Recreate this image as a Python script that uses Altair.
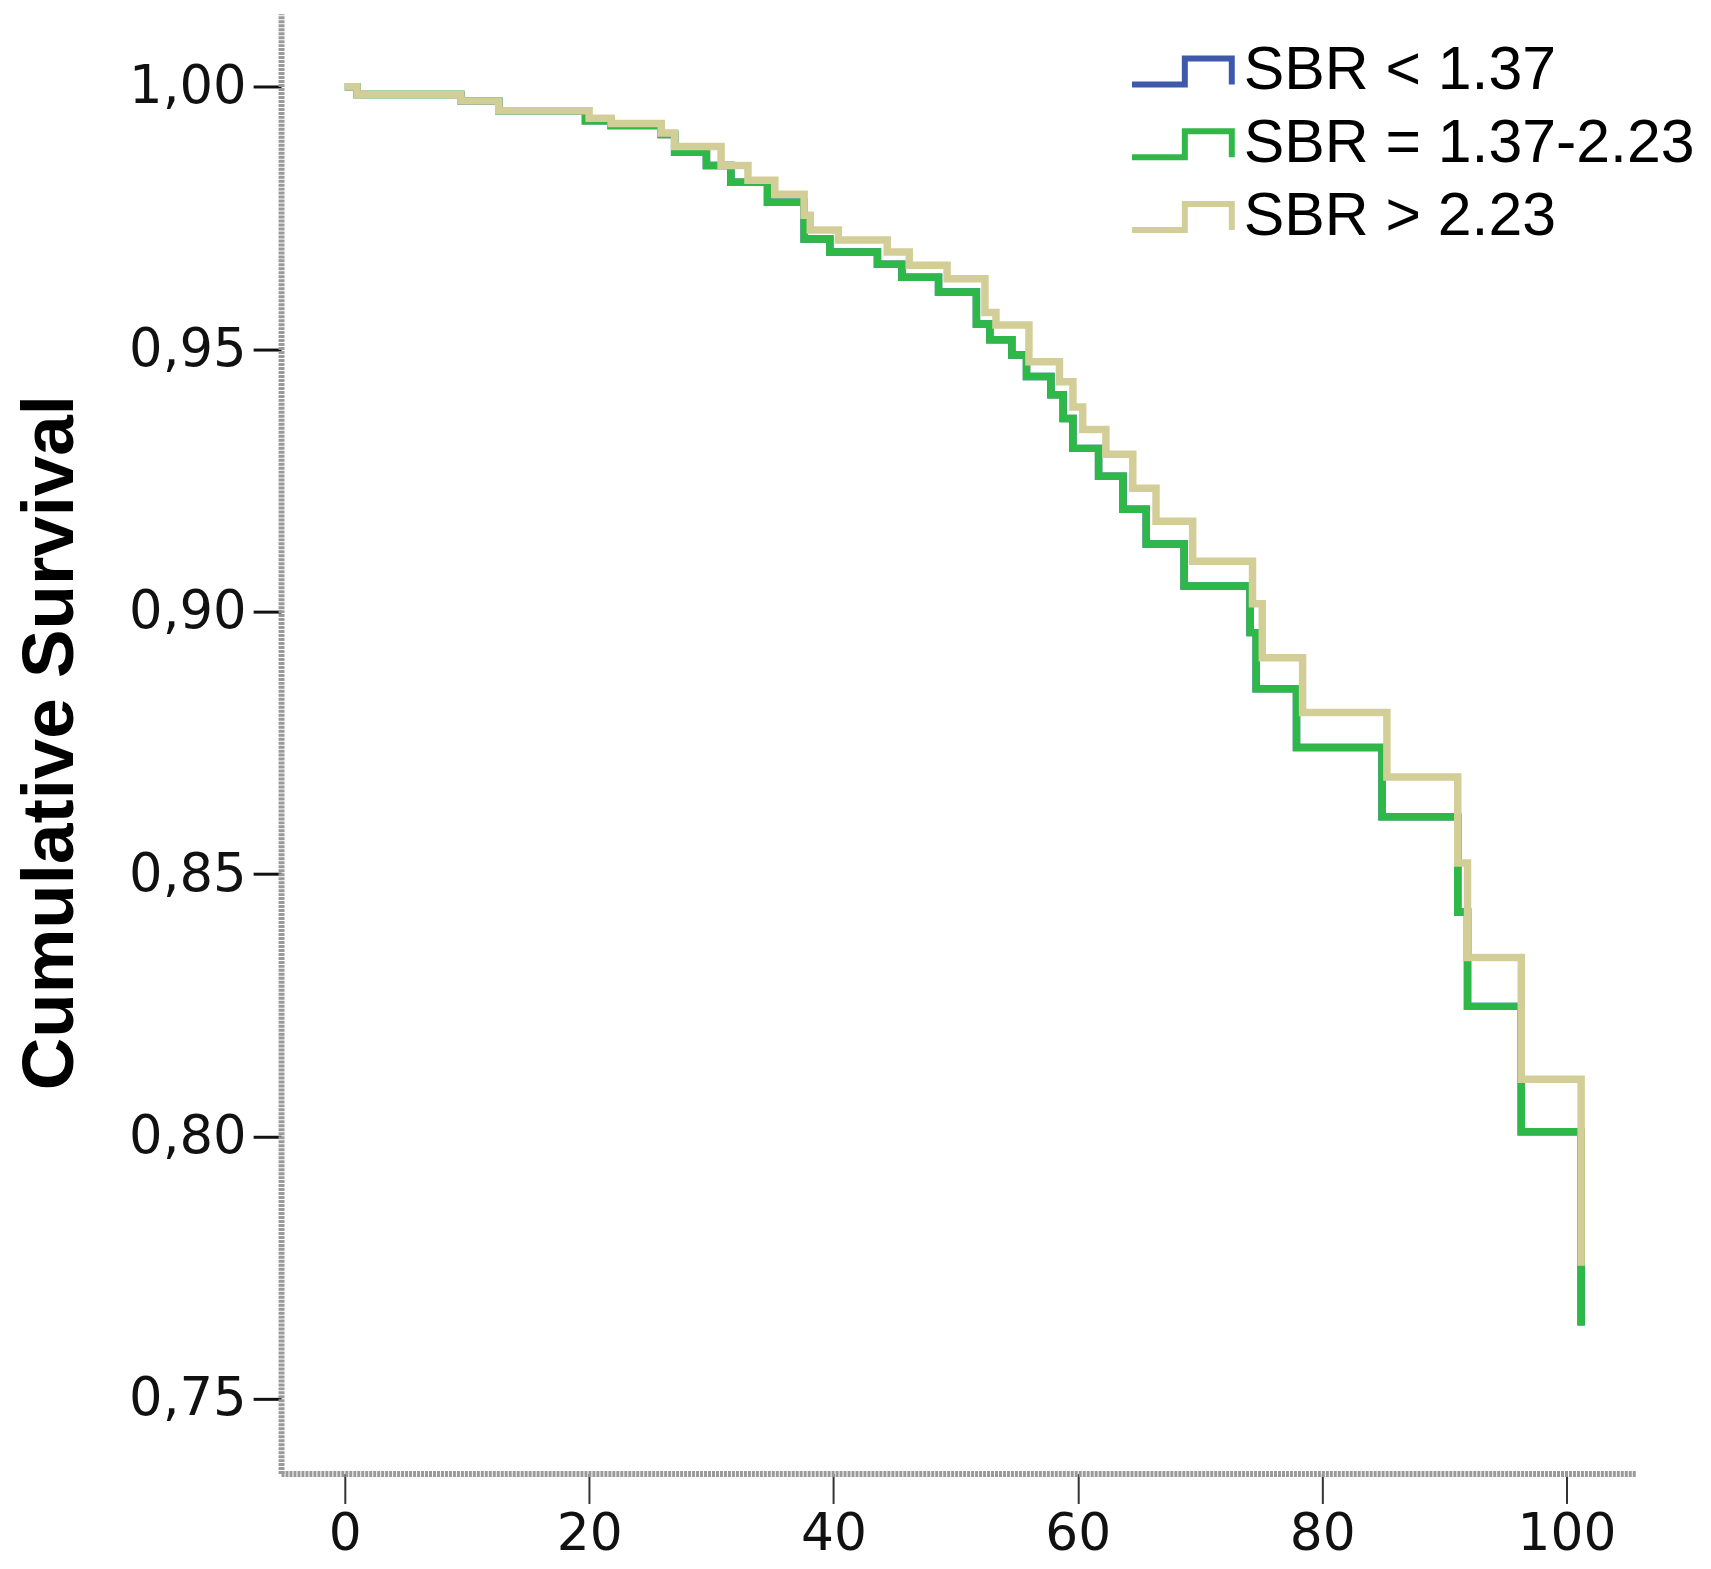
import altair as alt
import pandas as pd

groups = ["SBR < 1.37", "SBR = 1.37-2.23", "SBR > 2.23"]
colors = ["#3E58AC", "#2EB848", "#D3CE97"]

# SBR = 1.37-2.23 (green) step times / survival
t_mid = [0, 1.0, 9.5, 12.6, 19.7, 21.8, 25.9, 27.0, 29.6, 31.6, 34.6, 37.6, 39.7, 43.6, 45.6,
         48.6, 51.7, 52.8, 54.6, 55.8, 57.8, 58.8, 59.6, 61.7, 63.7, 65.6, 68.7, 74.1,
         74.6, 77.9, 84.9, 91.1, 91.9, 96.3, 101.2]
s_mid = [1.0, 0.9985, 0.9973, 0.9954, 0.9935, 0.9926, 0.9909, 0.9875, 0.9850, 0.9818, 0.9780,
         0.9710, 0.9685, 0.9662, 0.9637, 0.9609, 0.9548, 0.9518, 0.9489, 0.9448, 0.9413,
         0.9368, 0.9311, 0.9258, 0.9195, 0.9129, 0.9049, 0.8960, 0.8853, 0.8741, 0.8609,
         0.8428, 0.8248, 0.8009, 0.7640]

# SBR < 1.37 (blue) - hidden beneath the green curve
t_low = list(t_mid)
s_low = list(s_mid)

# SBR > 2.23 (khaki)
t_high = [0, 1.0, 9.5, 12.6, 20.0, 21.8, 25.9, 27.0, 30.8, 33.0, 35.2, 37.6, 38.1, 40.4, 44.4,
          46.2, 49.3, 52.4, 53.3, 56.0, 58.5, 59.6, 60.4, 62.3, 64.5, 66.4, 69.4, 74.3,
          75.1, 78.4, 85.3, 91.1, 91.9, 96.3, 101.2]
s_high = [1.0, 0.9985, 0.9973, 0.9954, 0.9940, 0.9930, 0.9912, 0.9886, 0.9850, 0.9822, 0.9795,
          0.9755, 0.9727, 0.9708, 0.9685, 0.9660, 0.9634, 0.9570, 0.9546, 0.9476, 0.9438,
          0.9390, 0.9347, 0.9300, 0.9235, 0.9172, 0.9096, 0.9015, 0.8912, 0.8808, 0.8685,
          0.8521, 0.8341, 0.8109, 0.7754]

x_ticks = [0, 20, 40, 60, 80, 100]
y_ticks = [0.75, 0.80, 0.85, 0.90, 0.95, 1.00]

rows = []
for g, ts, ss in [(groups[0], t_low, s_low), (groups[1], t_mid, s_mid), (groups[2], t_high, s_high)]:
    for i, (t, s) in enumerate(zip(ts, ss)):
        rows.append({"time": t, "surv": s, "group": g, "order": i})
df = pd.DataFrame(rows)

legend_path = "M -1.71 0.42 L 0 0.42 L 0 -0.42 L 1.52 -0.42 L 1.52 0.42"

chart = alt.Chart(df).mark_line(
    interpolate="step-after", strokeWidth=7.5, strokeJoin="miter", strokeCap="butt"
).encode(
    x=alt.X("time:Q", scale=alt.Scale(domain=[-5.22, 105.71], nice=False, zero=False),
            axis=alt.Axis(values=x_ticks, title=None, grid=False, format="d",
                          labelFont="DejaVu Sans", labelFontSize=52, labelColor="#111111",
                          labelPadding=5, tickSize=30, tickWidth=2, tickColor="#333333",
                          domainColor="#9a9a9a", domainWidth=6, domainDash=[3, 1])),
    y=alt.Y("surv:Q", scale=alt.Scale(domain=[0.7358, 1.0139], nice=False, zero=False),
            axis=alt.Axis(values=y_ticks, title="Cumulative Survival", grid=False,
                          labelExpr="replace(format(datum.value, '.2f'), '.', ',')",
                          labelFont="DejaVu Sans", labelFontSize=53, labelColor="#111111",
                          labelPadding=7, tickSize=28, tickWidth=3, tickColor="#111111",
                          domainColor="#9a9a9a", domainWidth=6, domainDash=[3, 1],
                          titleFont="Liberation Sans", titleFontWeight="bold", titleFontSize=73,
                          titleColor="#000000", titleAngle=270, titleX=-231, titleY=731,
                          titleAlign="center", titleBaseline="middle")),
    color=alt.Color("group:N", scale=alt.Scale(domain=groups, range=colors),
                    legend=alt.Legend(orient="none", legendX=873, legendY=24, title=None,
                                      symbolType=legend_path, symbolSize=3844,
                                      symbolStrokeWidth=6, symbolFillColor="transparent",
                                      labelFont="Liberation Sans", labelFontSize=61,
                                      labelColor="#000000", labelOffset=25, rowPadding=9,
                                      labelLimit=0, padding=0)),
    order=alt.Order("order:Q"),
).properties(
    width=1360, height=1465,
    background="white",
    autosize=alt.AutoSizeParams(type="none"),
    padding={"left": 274, "top": 3, "right": 67, "bottom": 93},
).configure_view(stroke=None)

chart.save("out.html", embed_options={"renderer": "svg", "actions": False})
